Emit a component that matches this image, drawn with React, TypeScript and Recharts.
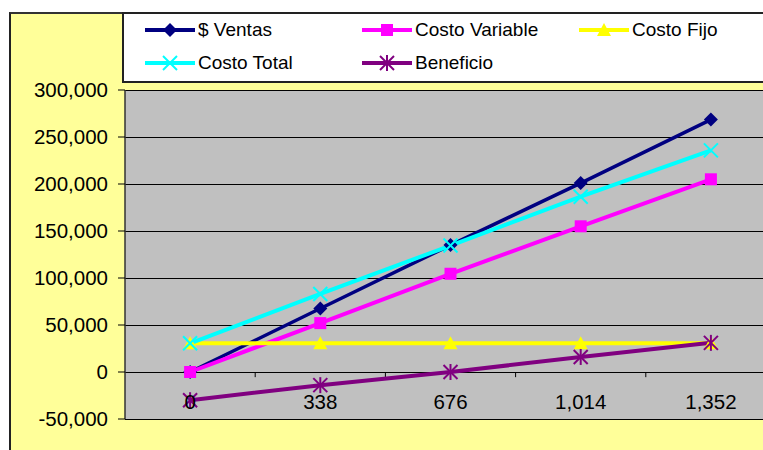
import React from 'react'
import { LineChart, Line, XAxis, YAxis, CartesianGrid, ReferenceLine } from 'recharts'

const categories = [0, 338, 676, 1014, 1352]
const ventas = [0, 67500, 135000, 201000, 268500]
const costoVariable = [0, 52000, 104500, 155000, 205000]
const costoFijo = [30500, 30500, 30500, 30500, 30500]
const costoTotal = [30500, 83000, 134500, 186500, 235800]
const beneficio = [-30000, -14000, 0, 16000, 31000]
const yTicks = [-50000, 0, 50000, 100000, 150000, 200000, 250000, 300000]

const FONT = "'Liberation Sans', Arial, sans-serif"
const fmt = (v: number) => v.toLocaleString('en-US')

type Shape = 'diamond' | 'square' | 'triangle' | 'x' | 'star'

const series: { key: string; name: string; color: string; width: number; shape: Shape }[] = [
  { key: 'ventas', name: '$ Ventas', color: '#000080', width: 3.5, shape: 'diamond' },
  { key: 'variable', name: 'Costo Variable', color: '#FF00FF', width: 4, shape: 'square' },
  { key: 'fijo', name: 'Costo Fijo', color: '#FFFF00', width: 4, shape: 'triangle' },
  { key: 'total', name: 'Costo Total', color: '#00FFFF', width: 4, shape: 'x' },
  { key: 'beneficio', name: 'Beneficio', color: '#800080', width: 4, shape: 'star' },
]

const data = categories.map((c, i) => ({
  x: c,
  ventas: ventas[i],
  variable: costoVariable[i],
  fijo: costoFijo[i],
  total: costoTotal[i],
  beneficio: beneficio[i],
}))

const step = categories[1] - categories[0]
const boundaries = categories.slice(0, -1).map(c => c + step / 2)

function Marker({ shape, cx, cy, color }: { shape: Shape; cx: number; cy: number; color: string }) {
  const s = 7
  if (shape === 'diamond')
    return <path d={`M${cx},${cy - s}L${cx + s},${cy}L${cx},${cy + s}L${cx - s},${cy}Z`} fill={color} />
  if (shape === 'square') return <rect x={cx - 6} y={cy - 6} width={12} height={12} fill={color} />
  if (shape === 'triangle')
    return <path d={`M${cx},${cy - s}L${cx + s},${cy + 6}L${cx - s},${cy + 6}Z`} fill={color} />
  const xs = (
    <>
      <line x1={cx - s} y1={cy - s} x2={cx + s} y2={cy + s} stroke={color} strokeWidth={2} />
      <line x1={cx - s} y1={cy + s} x2={cx + s} y2={cy - s} stroke={color} strokeWidth={2} />
    </>
  )
  if (shape === 'x') return <g>{xs}</g>
  return (
    <g>
      {xs}
      <line x1={cx} y1={cy - 8} x2={cx} y2={cy + 8} stroke={color} strokeWidth={2} />
    </g>
  )
}

function XTick(props: any) {
  const { x, y, payload } = props
  return (
    <text x={x} y={y - 18} textAnchor="middle" fontSize={20.5} fill="#000" fontFamily={FONT}>
      {fmt(payload.value)}
    </text>
  )
}

export default function App() {
  return (
    <div style={{ position: 'absolute', left: 0, top: 0, width: 763, height: 450, overflow: 'hidden', background: '#fff', fontFamily: FONT }}>
      <div
        style={{
          position: 'absolute', left: 9, top: 12, width: 800, height: 500,
          background: '#FFFF99', borderLeft: '2px solid #222', borderTop: '2px solid #333',
        }}
      />
      <div
        style={{
          position: 'absolute', left: 122, top: 12, width: 700, height: 71, boxSizing: 'border-box',
          background: '#fff', border: '2px solid #222',
        }}
      />
      {series.map((s, i) => {
        const left = 145 + (i % 3) * 217
        const top = 30 + Math.floor(i / 3) * 33
        return (
          <div key={s.key} style={{ position: 'absolute', left, top: top - 12, height: 24, display: 'flex', alignItems: 'center' }}>
            <svg width={52} height={24}>
              <line x1={0} y1={12} x2={50} y2={12} stroke={s.color} strokeWidth={4} />
              <Marker shape={s.shape} cx={25} cy={12} color={s.color} />
            </svg>
            <span style={{ fontSize: 19, color: '#000', marginLeft: 1, whiteSpace: 'nowrap' }}>{s.name}</span>
          </div>
        )
      })}
      <div style={{ position: 'absolute', left: 0, top: 0 }}>
        <LineChart width={800} height={450} data={data} margin={{ top: 90, right: 24, bottom: 11, left: 0 }}>
          <CartesianGrid vertical={false} stroke="#000" fill="#C0C0C0" fillOpacity={1} shapeRendering="crispEdges" />
          <XAxis
            dataKey="x"
            type="number"
            domain={[categories[0] - step / 2, categories[categories.length - 1] + step / 2]}
            ticks={categories}
            tick={<XTick />}
            axisLine={false}
            tickLine={false}
            height={20}
            interval={0}
          />
          <YAxis
            domain={[-50000, 300000]}
            ticks={yTicks}
            tickFormatter={fmt}
            tick={{ fontSize: 20.5, fill: '#000', fontFamily: FONT }}
            axisLine={{ stroke: '#333', strokeWidth: 1.5 }}
            tickLine={{ stroke: '#000' }}
            tickSize={7}
            tickMargin={10}
            width={125}
            interval={0}
          />
          {boundaries.map(b => (
            <ReferenceLine key={b} segment={[{ x: b, y: 0 }, { x: b, y: -5500 }]} stroke="#000" ifOverflow="visible" />
          ))}
          {series.map(s => (
            <Line
              key={s.key}
              dataKey={s.key}
              name={s.name}
              stroke={s.color}
              strokeWidth={s.width}
              isAnimationActive={false}
              dot={(p: any) => <Marker key={`${s.key}-${p.index}`} shape={s.shape} cx={p.cx} cy={p.cy} color={s.color} />}
              activeDot={false}
            />
          ))}
        </LineChart>
      </div>
    </div>
  )
}
